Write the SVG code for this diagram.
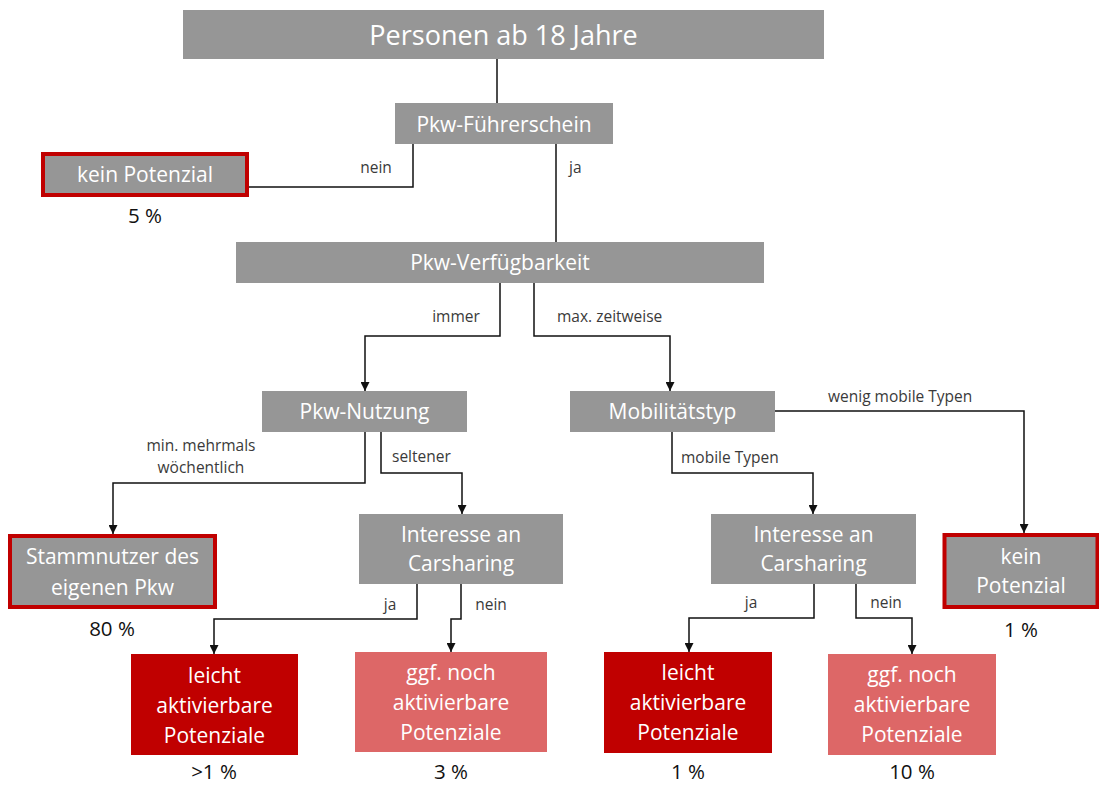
<svg xmlns="http://www.w3.org/2000/svg" width="1099" height="785" viewBox="0 0 1099 785">
  <defs>
    <marker id="arrow" viewBox="0 0 10 10" refX="10" refY="5" markerWidth="9" markerHeight="9" markerUnits="userSpaceOnUse" orient="auto">
      <path d="M0,0 L10,5 L0,10 z" fill="#111"/>
    </marker>
    <style>
      .box { fill: #969696; }
      .stop { fill: #969696; stroke: #C00000; stroke-width: 4; }
      .hot { fill: #C00000; }
      .warm { fill: #DD6767; }
      .t { font-family: "Open Sans", "Liberation Sans", sans-serif; fill: #ffffff; text-anchor: middle; font-size: 21px; }
      .title { font-size: 27px; }
      .pct { font-family: "Open Sans", "Liberation Sans", sans-serif; fill: #111; text-anchor: middle; font-size: 20.5px; }
      .lbl { font-family: "Open Sans", "Liberation Sans", sans-serif; fill: #3a3a3a; font-size: 15.5px; }
      .c { fill: none; stroke: #111; stroke-width: 1.5; }
      .a { marker-end: url(#arrow); }
    </style>
  </defs>
  <rect width="1099" height="785" fill="#ffffff"/>

  <!-- connectors -->
  <g id="connectors">
    <path class="c" d="M497,59 V103"/>
    <path class="c" d="M413,144 V187 H249"/>
    <path class="c" d="M556,144 V242"/>
    <path class="c a" d="M500,283 V336 H365 V391"/>
    <path class="c a" d="M534,283 V336 H670 V391"/>
    <path class="c a" d="M365,432 V483 H113 V534"/>
    <path class="c a" d="M381,432 V473 H462 V514"/>
    <path class="c a" d="M775,411 H1024 V533"/>
    <path class="c a" d="M672,432 V473 H813 V514"/>
    <path class="c a" d="M417,584 V619 H214 V654"/>
    <path class="c a" d="M461,584 V619 H451 V652"/>
    <path class="c a" d="M814,584 V618 H689 V652"/>
    <path class="c a" d="M856,584 V618 H912 V654"/>

    <text class="lbl" x="376" y="173" text-anchor="middle">nein</text>
    <text class="lbl" x="569" y="173">ja</text>
    <text class="lbl" x="456" y="322" text-anchor="middle">immer</text>
    <text class="lbl" x="557" y="322">max. zeitweise</text>
    <text class="lbl" x="201" y="451" text-anchor="middle">min. mehrmals</text>
    <text class="lbl" x="201" y="473" text-anchor="middle">wöchentlich</text>
    <text class="lbl" x="392" y="462">seltener</text>
    <text class="lbl" x="828" y="402">wenig mobile Typen</text>
    <text class="lbl" x="681" y="463">mobile Typen</text>
    <text class="lbl" x="390" y="610" text-anchor="middle">ja</text>
    <text class="lbl" x="491" y="610" text-anchor="middle">nein</text>
    <text class="lbl" x="751" y="608" text-anchor="middle">ja</text>
    <text class="lbl" x="886" y="608" text-anchor="middle">nein</text>
  </g>

  <!-- nodes -->
  <g id="personen">
    <rect class="box" x="183" y="10" width="641" height="49"/>
    <text class="t title" x="503.5" y="45">Personen ab 18 Jahre</text>
  </g>
  <g id="fuehrerschein">
    <rect class="box" x="395" y="103" width="218" height="41"/>
    <text class="t" x="504" y="132">Pkw-Führerschein</text>
  </g>
  <g id="kein-potenzial-1">
    <rect class="stop" x="43" y="154" width="204" height="41"/>
    <text class="t" x="145" y="182">kein Potenzial</text>
    <text class="pct" x="145" y="223">5 %</text>
  </g>
  <g id="verfuegbarkeit">
    <rect class="box" x="236" y="242" width="528" height="41"/>
    <text class="t" x="500" y="270">Pkw-Verfügbarkeit</text>
  </g>
  <g id="nutzung">
    <rect class="box" x="262" y="391" width="205" height="41"/>
    <text class="t" x="364.5" y="419">Pkw-Nutzung</text>
  </g>
  <g id="mobilitaetstyp">
    <rect class="box" x="570" y="391" width="205" height="41"/>
    <text class="t" x="672.5" y="419">Mobilitätstyp</text>
  </g>
  <g id="stammnutzer">
    <rect class="stop" x="10" y="536" width="205" height="71"/>
    <text class="t" x="112.5" y="564">Stammnutzer des</text>
    <text class="t" x="112.5" y="595">eigenen Pkw</text>
    <text class="pct" x="112" y="636">80 %</text>
  </g>
  <g id="interesse-1">
    <rect class="box" x="359" y="514" width="204" height="70"/>
    <text class="t" x="461" y="542">Interesse an</text>
    <text class="t" x="461" y="571">Carsharing</text>
  </g>
  <g id="interesse-2">
    <rect class="box" x="711" y="514" width="205" height="70"/>
    <text class="t" x="813.5" y="542">Interesse an</text>
    <text class="t" x="813.5" y="571">Carsharing</text>
  </g>
  <g id="kein-potenzial-2">
    <rect class="stop" x="944.5" y="535" width="153" height="72"/>
    <text class="t" x="1021" y="564">kein</text>
    <text class="t" x="1021" y="593">Potenzial</text>
    <text class="pct" x="1021" y="637">1 %</text>
  </g>
  <g id="leicht-1">
    <rect class="hot" x="131" y="654" width="167" height="101"/>
    <text class="t" x="214.5" y="683">leicht</text>
    <text class="t" x="214.5" y="713">aktivierbare</text>
    <text class="t" x="214.5" y="743">Potenziale</text>
    <text class="pct" x="214" y="779">&gt;1 %</text>
  </g>
  <g id="ggf-1">
    <rect class="warm" x="355" y="652" width="192" height="100"/>
    <text class="t" x="451" y="680">ggf. noch</text>
    <text class="t" x="451" y="710">aktivierbare</text>
    <text class="t" x="451" y="740">Potenziale</text>
    <text class="pct" x="451" y="779">3 %</text>
  </g>
  <g id="leicht-2">
    <rect class="hot" x="604" y="652" width="168" height="101"/>
    <text class="t" x="688" y="680">leicht</text>
    <text class="t" x="688" y="710">aktivierbare</text>
    <text class="t" x="688" y="740">Potenziale</text>
    <text class="pct" x="688" y="779">1 %</text>
  </g>
  <g id="ggf-2">
    <rect class="warm" x="828" y="654" width="168" height="101"/>
    <text class="t" x="912" y="682">ggf. noch</text>
    <text class="t" x="912" y="712">aktivierbare</text>
    <text class="t" x="912" y="742">Potenziale</text>
    <text class="pct" x="912" y="779">10 %</text>
  </g>
</svg>
